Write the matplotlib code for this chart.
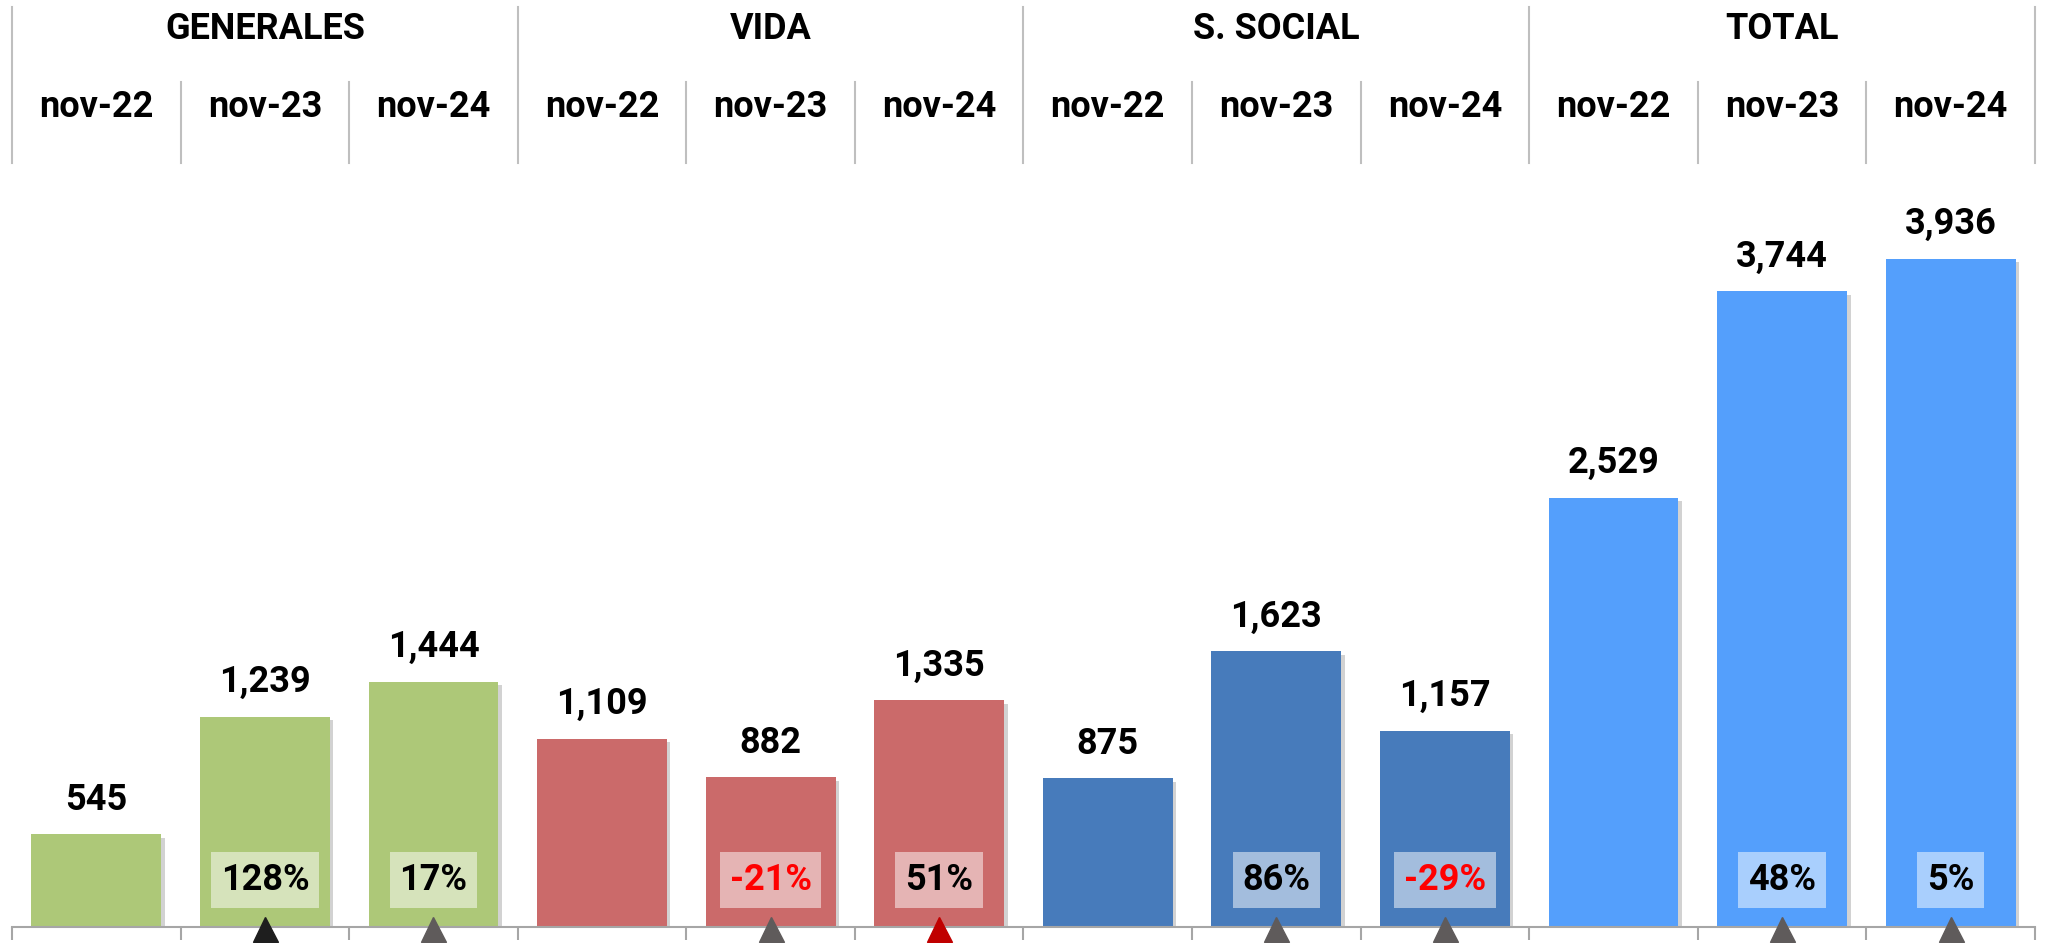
import numpy as np
import matplotlib
matplotlib.use('Agg')
import matplotlib.pyplot as plt
import matplotlib.transforms as mtransforms
import matplotlib.patheffects as pe

plt.rcParams['font.family'] = ['Roboto', 'DejaVu Sans']

groups = ['GENERALES', 'VIDA', 'S. SOCIAL', 'TOTAL']
months = ['nov-22', 'nov-23', 'nov-24']
values = [545, 1239, 1444, 1109, 882, 1335, 875, 1623, 1157, 2529, 3744, 3936]
growth = [None, 128, 17, None, -21, 51, None, 86, -29, None, 48, 5]
bar_colors = ['#adc878'] * 3 + ['#cb6a6a'] * 3 + ['#477bbb'] * 3 + ['#549ffc'] * 3
arrow_colors = [None, '#1e1e1e', '#5f5b5b', None, '#5f5b5b', '#c00000',
                None, '#5f5b5b', '#5f5b5b', None, '#5f5b5b', '#5f5b5b']

W, H = 2045, 943
fig = plt.figure(figsize=(W / 100, H / 100), dpi=100)
ax = fig.add_axes([12 / W, 16 / H, 2023 / W, 927 / H])

x = np.arange(len(values))
bars = ax.bar(x, values, width=0.77, color=bar_colors, zorder=2)
for b in bars:
    b.set_path_effects([pe.SimplePatchShadow(offset=(2.5, -2.5), shadow_rgbFace='#808080', alpha=0.35),
                        pe.Normal()])

ax.set_xlim(-0.5, len(values) - 0.5)
ax.set_ylim(0, 5460)
for s in ['top', 'left', 'right']:
    ax.spines[s].set_visible(False)
ax.spines['bottom'].set_color('#a6a6a6')
ax.spines['bottom'].set_linewidth(1.5)
ax.set_xticks(np.arange(-0.5, len(values), 1))
ax.set_xticklabels([])
ax.tick_params(axis='x', direction='out', length=9, width=1.5, color='#a6a6a6')
ax.set_yticks([])

# value labels above bars
for i, v in enumerate(values):
    ax.annotate(f'{v:,}', xy=(i, v), xytext=(0, 25), textcoords='offset points',
                ha='center', va='center', fontsize=26, fontweight='bold', color='black')

# growth boxes + triangles
for i, g in enumerate(growth):
    if g is None:
        continue
    ax.annotate(f'{g}%', xy=(i, 0), xytext=(0, 34), textcoords='offset points',
                ha='center', va='center', fontsize=26, fontweight='bold',
                color='#ff0000' if g < 0 else 'black', zorder=4,
                bbox=dict(boxstyle='square,pad=0.27', facecolor='white', alpha=0.5, edgecolor='none'))
    ax.plot(i, -12, marker='^', markersize=18, color=arrow_colors[i], clip_on=False, zorder=5)

# header
tr = mtransforms.blended_transform_factory(ax.transData, fig.transFigure)
for gi, gname in enumerate(groups):
    ax.text(gi * 3 + 1, 0.969, gname, transform=tr, ha='center', va='center',
            fontsize=26, fontweight='bold')
    for mi, m in enumerate(months):
        ax.text(gi * 3 + mi, 0.887, m, transform=tr, ha='center', va='center',
                fontsize=26, fontweight='bold')
for k in range(len(values) + 1):
    xb = k - 0.5
    top = 0.993 if k % 3 == 0 else 0.913
    ax.plot([xb, xb], [top, 0.827], transform=tr, color='#bfbfbf', lw=1.5, clip_on=False)

fig.savefig('out.png', dpi=100)
